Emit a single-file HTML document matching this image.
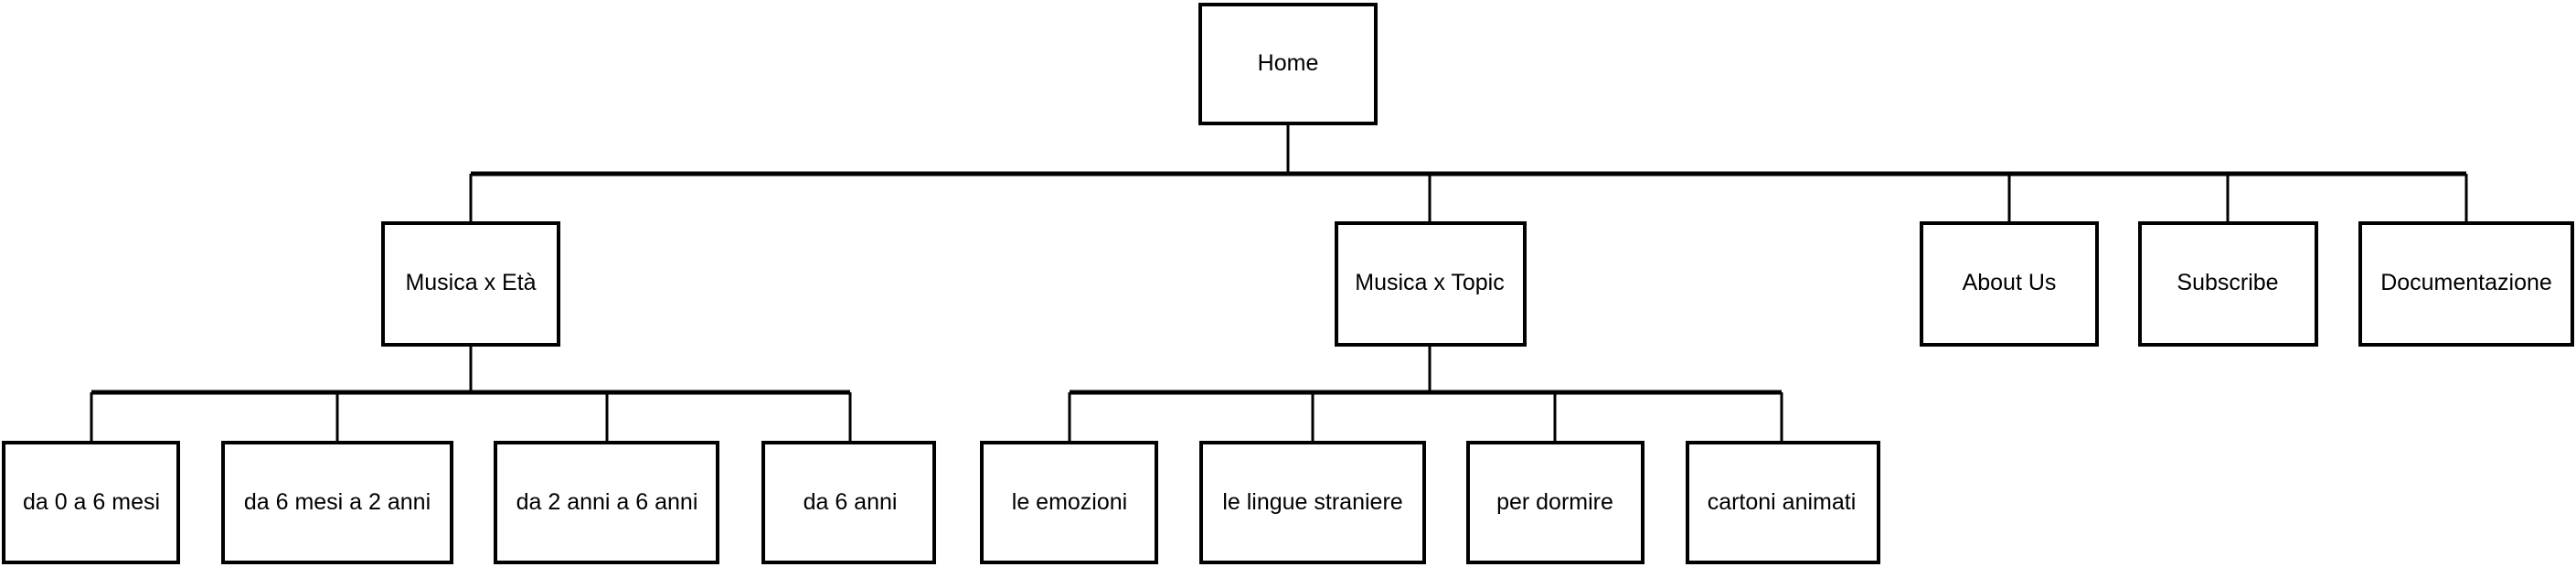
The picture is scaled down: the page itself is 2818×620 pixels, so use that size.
<!DOCTYPE html>
<html><head><meta charset="utf-8"><style>
html,body{margin:0;padding:0;background:#fff}
svg{display:block}
text{font-family:"Liberation Sans",sans-serif;font-size:25px;fill:#000;text-anchor:middle;dominant-baseline:central}
.b{fill:#fff;stroke:#000;stroke-width:4}
.l{stroke:#000;stroke-width:3}
.h{stroke:#000;stroke-width:5}
</style></head><body>
<svg width="2818" height="620" viewBox="0 0 2818 620">
<!-- connectors -->
<line class="l" x1="1409" y1="136" x2="1409" y2="190"/>
<line class="h" x1="515" y1="190" x2="2698" y2="190"/>
<line class="l" x1="515" y1="190" x2="515" y2="243"/>
<line class="l" x1="1564" y1="190" x2="1564" y2="243"/>
<line class="l" x1="2198" y1="190" x2="2198" y2="243"/>
<line class="l" x1="2437" y1="190" x2="2437" y2="243"/>
<line class="l" x1="2698" y1="190" x2="2698" y2="243"/>
<line class="l" x1="515" y1="378" x2="515" y2="429"/>
<line class="l" x1="1564" y1="378" x2="1564" y2="429"/>
<line class="h" x1="100" y1="429" x2="930" y2="429"/>
<line class="h" x1="1170" y1="429" x2="1949" y2="429"/>
<line class="l" x1="100" y1="429" x2="100" y2="483"/>
<line class="l" x1="369" y1="429" x2="369" y2="483"/>
<line class="l" x1="664" y1="429" x2="664" y2="483"/>
<line class="l" x1="930" y1="429" x2="930" y2="483"/>
<line class="l" x1="1170" y1="429" x2="1170" y2="483"/>
<line class="l" x1="1436" y1="429" x2="1436" y2="483"/>
<line class="l" x1="1701" y1="429" x2="1701" y2="483"/>
<line class="l" x1="1949" y1="429" x2="1949" y2="483"/>
<!-- boxes -->
<rect class="b" x="1313" y="5" width="192" height="130"/><text x="1409" y="69">Home</text>
<rect class="b" x="419" y="244" width="192" height="133"/><text x="515" y="309">Musica x Età</text>
<rect class="b" x="1462" y="244" width="206" height="133"/><text x="1564" y="309">Musica x Topic</text>
<rect class="b" x="2102" y="244" width="192" height="133"/><text x="2198" y="309">About Us</text>
<rect class="b" x="2341" y="244" width="193" height="133"/><text x="2437" y="309">Subscribe</text>
<rect class="b" x="2582" y="244" width="232" height="133"/><text x="2698" y="309">Documentazione</text>
<rect class="b" x="4" y="484" width="191" height="131"/><text x="100" y="549">da 0 a 6 mesi</text>
<rect class="b" x="244" y="484" width="250" height="131"/><text x="369" y="549">da 6 mesi a 2 anni</text>
<rect class="b" x="542" y="484" width="243" height="131"/><text x="664" y="549">da 2 anni a 6 anni</text>
<rect class="b" x="835" y="484" width="187" height="131"/><text x="930" y="549">da 6 anni</text>
<rect class="b" x="1074" y="484" width="191" height="131"/><text x="1170" y="549">le emozioni</text>
<rect class="b" x="1314" y="484" width="244" height="131"/><text x="1436" y="549">le lingue straniere</text>
<rect class="b" x="1606" y="484" width="191" height="131"/><text x="1701" y="549">per dormire</text>
<rect class="b" x="1846" y="484" width="209" height="131"/><text x="1949" y="549">cartoni animati</text>
</svg>
</body></html>
